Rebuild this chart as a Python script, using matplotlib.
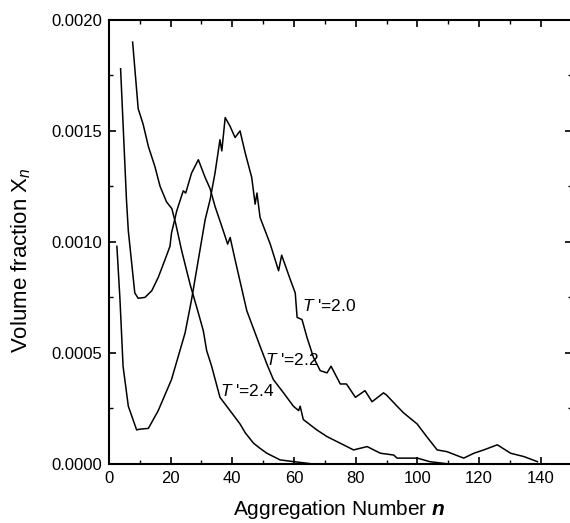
import matplotlib
matplotlib.use("Agg")
import matplotlib.pyplot as plt
from matplotlib.ticker import MultipleLocator

plt.rcParams['font.family'] = 'Liberation Sans'
plt.rcParams['mathtext.fontset'] = 'custom'
plt.rcParams['mathtext.rm'] = 'Liberation Sans'
plt.rcParams['mathtext.it'] = 'Liberation Sans:italic'
plt.rcParams['mathtext.bf'] = 'Liberation Sans:bold:italic'

# T'=2.0
n_20 = [2.6, 3.6, 4.6, 6.3, 9.0, 9.8, 12.8, 16.0, 20.3, 24.7, 26.8, 29.0, 31.2, 32.8,
        34.4, 36.0, 36.6, 37.7, 39.3, 40.9, 42.5, 44.2, 46.3, 47.4, 48.0, 49.0, 52.3, 55.0,
        56.0, 58.8, 60.4, 61.0, 62.6, 64.2, 66.3, 68.5, 70.7, 72.0, 75.0, 77.0, 79.9, 83.0,
        85.3, 89.0, 90.0, 93.4, 95.5, 99.9, 103.0, 106.4, 109.6, 115.0, 118.3, 121.5, 125.9,
        130.2, 134.5, 138.9]
x_20 = [0.00098, 0.00074, 0.00044, 0.00026, 0.000153, 0.000156, 0.00016, 0.00024, 0.00038,
        0.00059, 0.00074, 0.00092, 0.0011, 0.00119, 0.00131, 0.00146, 0.00141, 0.00156,
        0.00152, 0.00147, 0.0015, 0.0014, 0.00129, 0.00117, 0.00122, 0.00111, 0.00099,
        0.00087, 0.00094, 0.00083, 0.00077, 0.00066, 0.00065, 0.00057, 0.00048, 0.00042,
        0.00041, 0.00044, 0.00036, 0.00036, 0.0003, 0.00033, 0.00028, 0.00032, 0.00031,
        0.00026, 0.00023, 0.00018, 0.000123, 0.000063, 0.000055, 0.000026, 0.000048,
        0.000063, 0.000086, 0.000048, 0.000033, 0.00001]

# T'=2.2
n_22 = [3.8, 5.7, 6.3, 8.4, 9.5, 11.7, 13.9, 16.0, 18.2, 19.8, 20.3, 22.0, 24.1, 24.9, 26.8,
        29.0, 31.2, 32.8, 34.4, 36.6, 38.5, 39.3, 40.9, 44.7, 49.0, 51.2, 53.3, 56.6, 59.8,
        61.5, 62.0, 63.0, 67.4, 70.7, 75.0, 79.3, 83.7, 88.0, 92.3, 93.4, 100.0, 104.0, 110.0]
x_22 = [0.00178, 0.00119, 0.00105, 0.00077, 0.000746, 0.00075, 0.00078, 0.00084, 0.00092,
        0.00098, 0.00104, 0.00114, 0.00123, 0.00122, 0.00131, 0.00137, 0.00129, 0.00124,
        0.00116, 0.00107, 0.00099, 0.00102, 0.00092, 0.00069, 0.00053, 0.00045, 0.00038,
        0.00032, 0.00026, 0.00024, 0.00026, 0.0002, 0.000153, 0.000123, 0.000093, 0.000063,
        0.000078, 0.000048, 0.00004, 0.000026, 0.000026, 0.00001, 0.0]

# T'=2.4
n_24 = [7.7, 9.5, 11.1, 12.8, 14.9, 16.6, 18.7, 20.4, 21.7, 23.6, 26.3, 29.0, 30.6, 31.7, 33.3,
        36.0, 39.8, 42.5, 44.2, 46.9, 49.0, 51.2, 55.5, 60.0, 66.0]
x_24 = [0.0019, 0.0016, 0.00153, 0.00143, 0.00134, 0.00125, 0.00118, 0.00115, 0.00108,
        0.00096, 0.00081, 0.00068, 0.0006, 0.00051, 0.00044, 0.0003, 0.00023, 0.00018,
        0.00014, 0.000093, 0.00007, 0.000048, 0.000018, 0.00001, 0.0]

fig = plt.figure(figsize=(5.70, 5.23), dpi=100)
ax = fig.add_axes([0.191, 0.113, 0.812, 0.849])

ax.plot(n_20, x_20, color='black', lw=1.1)
ax.plot(n_22, x_22, color='black', lw=1.1)
ax.plot(n_24, x_24, color='black', lw=1.1)

ax.text(62.5, 0.00071, "$T$ '=2.0", fontsize=12.5, va='center', ha='left')
ax.text(50.5, 0.00047, "$T$ '=2.2", fontsize=12.5, va='center', ha='left')
ax.text(36.0, 0.00033, "$T$ '=2.4", fontsize=12.5, va='center', ha='left')

ax.set_xlim(0, 150)
ax.set_ylim(0, 0.002)
ax.xaxis.set_major_locator(MultipleLocator(20))
ax.xaxis.set_minor_locator(MultipleLocator(10))
ax.yaxis.set_major_locator(MultipleLocator(0.0005))
ax.yaxis.set_minor_locator(MultipleLocator(0.00025))
ax.yaxis.set_major_formatter(plt.FormatStrFormatter('%.4f'))
ax.tick_params(which='both', direction='in', top=True, right=True, labelsize=12)
ax.tick_params(which='major', length=5, width=1.2, pad=5)
ax.tick_params(which='minor', length=3, width=1.0)
for s in ax.spines.values():
    s.set_linewidth(1.5)

ax.set_xlabel(r"Aggregation Number $\mathbf{n}$", fontsize=15)
ax.set_ylabel("Volume fraction X$_{n}$", fontsize=16)
ax.xaxis.set_label_coords(0.497, -0.077)
ax.yaxis.set_label_coords(-0.163, 0.46)

fig.savefig("out.png", dpi=100)
